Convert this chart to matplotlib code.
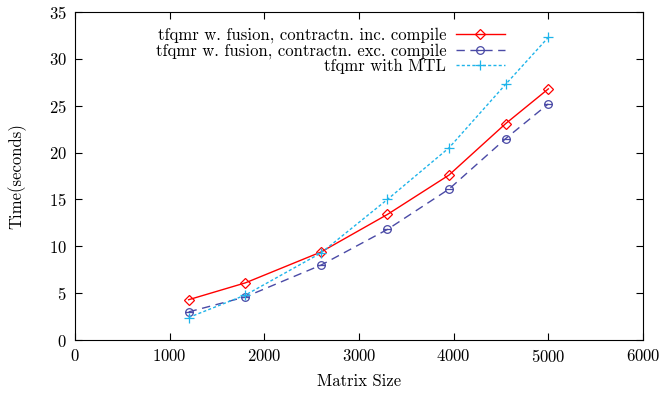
import matplotlib
matplotlib.use("Agg")
import matplotlib.pyplot as plt
from matplotlib.path import Path

# ==========================
# Data
# ==========================

matrix_size = [1200, 1800, 2600, 3300, 3950, 4550, 5000]

inc_compile = [4.3, 6.1, 9.4, 13.4, 17.6, 23.1, 26.8]
exc_compile = [3.0, 4.6, 8.0, 11.8, 16.1, 21.5, 25.2]
with_mtl = [2.4, 4.8, 9.3, 15.0, 20.5, 27.3, 32.3]

labels = [
    "tfqmr w. fusion, contractn. inc. compile",
    "tfqmr w. fusion, contractn. exc. compile",
    "tfqmr with MTL",
]

xticks = [0, 1000, 2000, 3000, 4000, 5000, 6000]
yticks = [0, 5, 10, 15, 20, 25, 30, 35]

# ==========================
# Style
# ==========================

plt.rcParams["font.family"] = "cmr10"
plt.rcParams["mathtext.fontset"] = "cm"
plt.rcParams["axes.formatter.use_mathtext"] = True
plt.rcParams["font.size"] = 12

# circle with a horizontal bar
theta_marker = Path.make_compound_path(
    Path.unit_circle(),
    Path([[-1, 0], [1, 0]], [Path.MOVETO, Path.LINETO])
)

fig = plt.figure(figsize=(6.61, 3.98), dpi=100)
ax = fig.add_axes([0.1135, 0.1457, 0.8593, 0.8241])

ax.plot(
    matrix_size, inc_compile,
    color="#ff0000", linewidth=1.0,
    marker="D", markersize=5.5, markerfacecolor="none",
    markeredgewidth=0.9, label=labels[0]
)
ax.plot(
    matrix_size, exc_compile,
    color="#4a4aa6", linewidth=1.0, dashes=(6, 4),
    marker=theta_marker, markersize=5.5, markerfacecolor="none",
    markeredgewidth=0.9, label=labels[1]
)
ax.plot(
    matrix_size, with_mtl,
    color="#1fb4ea", linewidth=1.0, dashes=(2.2, 1.6),
    marker="+", markersize=7, markeredgewidth=0.9,
    label=labels[2]
)

ax.set_xlim(0, 6000)
ax.set_ylim(0, 35)
ax.set_xticks(xticks)
ax.set_yticks(yticks)

ax.tick_params(
    direction="in", top=True, right=True,
    length=5, width=0.8, labelsize=12, pad=6
)
for spine in ax.spines.values():
    spine.set_linewidth(0.8)

ax.set_xlabel("Matrix Size", labelpad=6)
ax.set_ylabel("Time(seconds)", labelpad=16)

ax.legend(
    loc="upper right",
    bbox_to_anchor=(0.776, 0.952),
    bbox_transform=fig.transFigure,
    frameon=False,
    markerfirst=False,
    handlelength=2.9,
    handletextpad=0.6,
    labelspacing=0.0,
    borderpad=0.0,
    fontsize=12,
)

plt.savefig("out.png", dpi=100)
